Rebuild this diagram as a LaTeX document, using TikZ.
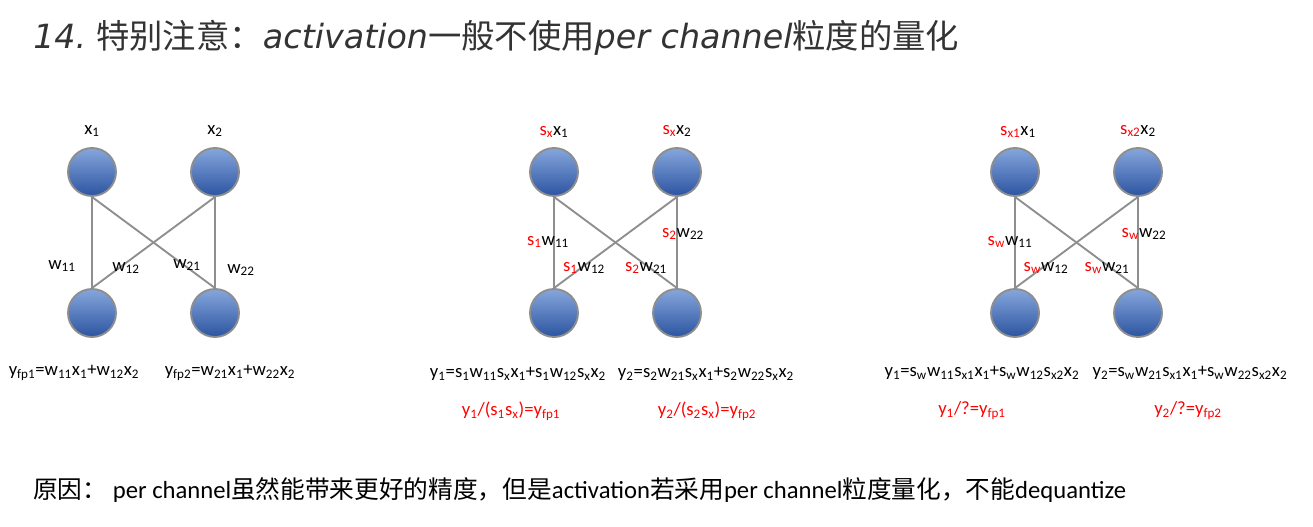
\documentclass[tikz,border=0pt]{standalone}
\usepackage{fontspec}
\setmainfont{Carlito}
\newfontfamily\cjk{Noto Sans CJK SC}
\newfontfamily\hand{DejaVu Sans}
\newcommand\lo[1]{\textsubscript{#1}}
\newcommand\rd[1]{\textcolor{red}{#1}}
\definecolor{nodetop}{HTML}{86A6DC}
\definecolor{nodebot}{HTML}{2C54A0}
\definecolor{edgegray}{HTML}{8E8E8E}
\definecolor{titlegray}{HTML}{333333}
\tikzset{
  neuron/.style={circle, minimum size=36pt, inner sep=0pt, draw=edgegray,
    line width=1.4pt, top color=nodetop, bottom color=nodebot},
  edge/.style={draw=edgegray, line width=1.4pt},
  lab/.style={inner sep=1pt, font=\fontsize{14}{16}\selectfont},
}
\begin{document}
\begin{tikzpicture}[x=0.75pt, y=-0.75pt]
    \useasboundingbox (0,0) rectangle (1313,527);
    \node[anchor=west, inner sep=0pt, text=titlegray, font=\fontsize{25}{29}\selectfont] (title) at (33,38)
      {{\hand\itshape 14.} {\cjk 特别注意：}{\hand\itshape activation}{\cjk 一般不使用}{\hand\itshape per channel}{\cjk 粒度的量化}};
    \foreach \p/\dx in {a/0,b/462,c/923} {
      \node[neuron] (\p1) at (92+\dx,172) {};
      \node[neuron] (\p2) at (215+\dx,172) {};
      \node[neuron] (\p3) at (92+\dx,313) {};
      \node[neuron] (\p4) at (215+\dx,313) {};
      \draw[edge] (\p1.south) -- (\p3.north);
      \draw[edge] (\p1.south) -- (\p4.north);
      \draw[edge] (\p2.south) -- (\p3.north);
      \draw[edge] (\p2.south) -- (\p4.north);
    }
    % panel a
    \node[lab] (xa1) at (92,131) {x\lo{1}};
    \node[lab] (xa2) at (215,131) {x\lo{2}};
    \node[lab] (wa11) at (62,266) {w\lo{11}};
    \node[lab] (wa12) at (126,268) {w\lo{12}};
    \node[lab] (wa21) at (187,265) {w\lo{21}};
    \node[lab] (wa22) at (241,270) {w\lo{22}};
    \node[lab] (ya1) at (74,373) {y\lo{fp1}=w\lo{11}x\lo{1}+w\lo{12}x\lo{2}};
    \node[lab] (ya2) at (230,373) {y\lo{fp2}=w\lo{21}x\lo{1}+w\lo{22}x\lo{2}};
    % panel b
    \node[lab] (xb1) at (554,132) {\rd{s\lo{x}}x\lo{1}};
    \node[lab] (xb2) at (677,131) {\rd{s\lo{x}}x\lo{2}};
    \node[lab] (wb11) at (548,242) {\rd{s\lo{1}}w\lo{11}};
    \node[lab] (wb22) at (683,234) {\rd{s\lo{2}}w\lo{22}};
    \node[lab] (wb12) at (584,268) {\rd{s\lo{1}}w\lo{12}};
    \node[lab] (wb21) at (646,268) {\rd{s\lo{2}}w\lo{21}};
    \node[lab] (yb1) at (518,374) {y\lo{1}=s\lo{1}w\lo{11}s\lo{x}x\lo{1}+s\lo{1}w\lo{12}s\lo{x}x\lo{2}};
    \node[lab] (yb2) at (706,374) {y\lo{2}=s\lo{2}w\lo{21}s\lo{x}x\lo{1}+s\lo{2}w\lo{22}s\lo{x}x\lo{2}};
    \node[lab, text=red] (qb1) at (511,411) {y\lo{1}/(s\lo{1}s\lo{x})=y\lo{fp1}};
    \node[lab, text=red] (qb2) at (707,411) {y\lo{2}/(s\lo{2}s\lo{x})=y\lo{fp2}};
    % panel c
    \node[lab] (xc1) at (1018,132) {\rd{s\lo{x1}}x\lo{1}};
    \node[lab] (xc2) at (1138,131) {\rd{s\lo{x2}}x\lo{2}};
    \node[lab] (wc11) at (1010,242) {\rd{s\lo{w}}w\lo{11}};
    \node[lab] (wc22) at (1144,234) {\rd{s\lo{w}}w\lo{22}};
    \node[lab] (wc12) at (1046,268) {\rd{s\lo{w}}w\lo{12}};
    \node[lab] (wc21) at (1107,268) {\rd{s\lo{w}}w\lo{21}};
    \node[lab] (yc1) at (982,373) {y\lo{1}=s\lo{w}w\lo{11}s\lo{x1}x\lo{1}+s\lo{w}w\lo{12}s\lo{x2}x\lo{2}};
    \node[lab] (yc2) at (1190,373) {y\lo{2}=s\lo{w}w\lo{21}s\lo{x1}x\lo{1}+s\lo{w}w\lo{22}s\lo{x2}x\lo{2}};
    \node[lab, text=red] (qc1) at (972,411) {y\lo{1}/?=y\lo{fp1}};
    \node[lab, text=red] (qc2) at (1188,411) {y\lo{2}/?=y\lo{fp2}};
    \node[anchor=west, inner sep=0pt, font=\fontsize{18.5}{22}\selectfont] (note) at (33,490)
      {{\cjk 原因：} per channel{\cjk 虽然能带来更好的精度，但是}activation{\cjk 若采用}per channel{\cjk 粒度量化，不能}dequantize};
\end{tikzpicture}
\end{document}
